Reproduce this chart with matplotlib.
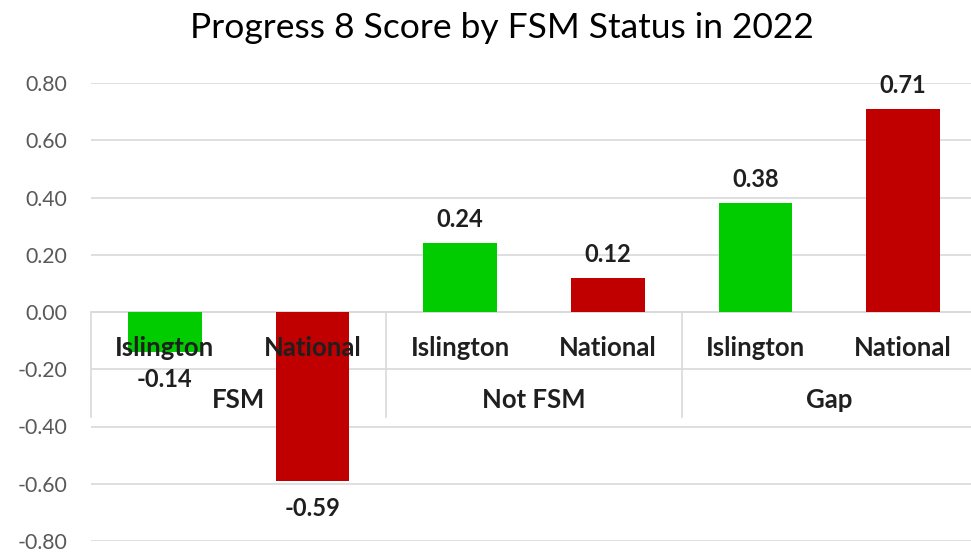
import matplotlib.pyplot as plt
import numpy as np

plt.rcParams['font.family'] = ['Lato', 'DejaVu Sans']

groups = ["FSM", "Not FSM", "Gap"]
areas = ["Islington", "National"]
scores = [-0.14, -0.59, 0.24, 0.12, 0.38, 0.71]
bar_colors = ["#00CC00", "#C00000"] * 3
yticks = [-0.8, -0.6, -0.4, -0.2, 0.0, 0.2, 0.4, 0.6, 0.8]

fig = plt.figure(figsize=(9.71, 5.52), dpi=100)
ax = fig.add_axes([91 / 971, 1 - 541 / 552, 886 / 971, (541 - 83) / 552])

x = np.arange(len(scores))
ax.bar(x, scores, width=0.5, color=bar_colors, zorder=2)

ax.set_xlim(-0.5, len(scores) - 0.5)
ax.set_ylim(-0.8, 0.8)
ax.set_yticks(yticks)
ax.set_yticklabels(["%.2f" % v for v in yticks])
ax.tick_params(axis='y', length=0, pad=17, labelsize=15.3, labelcolor="#595959")
ax.set_xticks([])
ax.grid(axis='y', color="#D9D9D9", linewidth=1.2, zorder=0)
for s in ax.spines.values():
    s.set_visible(False)

# category axis: line at zero, separators, two label rows
ax.axhline(0, color="#D9D9D9", linewidth=1.2, zorder=1)
for edge in np.arange(-0.5, len(scores), 2):
    ax.plot([edge, edge], [0, -0.367], color="#D9D9D9", linewidth=1.2,
            zorder=1, clip_on=False)
for i, v in enumerate(scores):
    ax.text(i, -0.125, areas[i % 2], ha='center', va='center', fontsize=18.5,
            fontweight='bold', color="#1F1F1F", zorder=3)
    off = 17 if v >= 0 else -20
    ax.annotate("%.2f" % v, (i, v), xytext=(0, off), textcoords='offset points',
                ha='center', va='center', fontsize=17, fontweight='bold',
                color="#1F1F1F")
for g, name in enumerate(groups):
    ax.text(2 * g + 0.5, -0.307, name, ha='center', va='center', fontsize=18.5,
            fontweight='bold', color="#1F1F1F", zorder=3)

fig.text(0.517, 1 - 28 / 552, "Progress 8 Score by FSM Status in 2022",
         ha='center', va='center', fontsize=25.5, color="#000000")

fig.savefig("out.png", dpi=100)
